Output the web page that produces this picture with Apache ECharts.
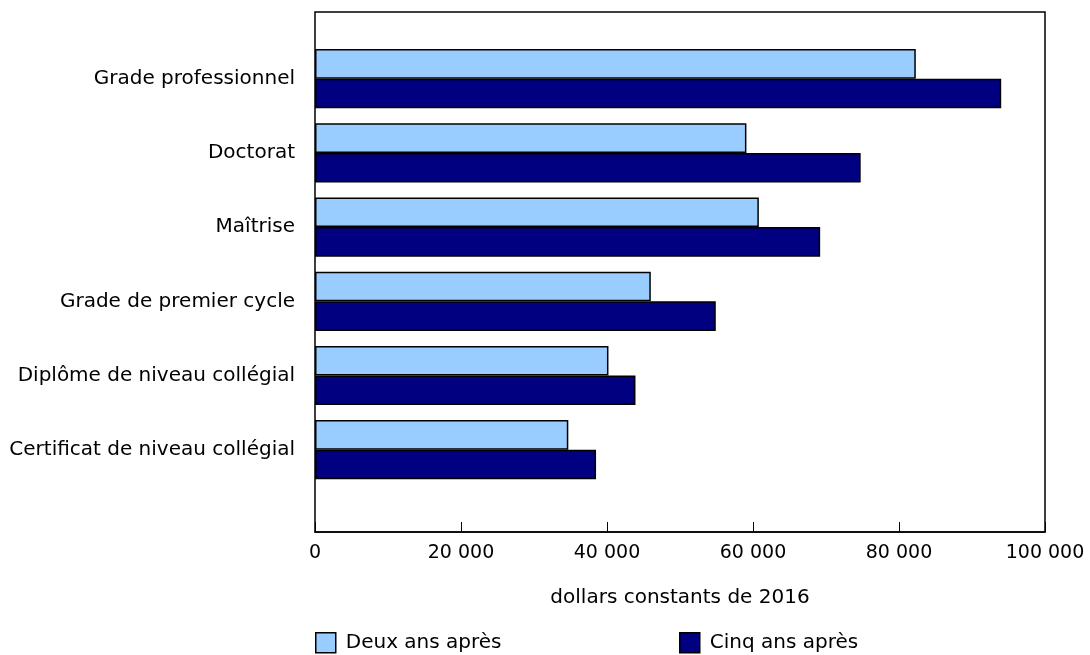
<!DOCTYPE html>
<html>
<head>
<meta charset="utf-8">
<script src="https://cdn.jsdelivr.net/npm/echarts@6/dist/echarts.min.js"></script>
<style>
  html, body { margin: 0; padding: 0; background: #fff; }
  #chart { width: 1090px; height: 655px; }
</style>
</head>
<body>
<div id="chart"></div>
<script>
// catégories (du haut vers le bas)
var categories = ['Grade professionnel', 'Doctorat', 'Maîtrise', 'Grade de premier cycle',
    'Diplôme de niveau collégial', 'Certificat de niveau collégial']

// revenus médians, dollars constants de 2016
var deuxAns = [82300, 59100, 60800, 46000, 40200, 34700]
var cinqAns = [94000, 74750, 69200, 54900, 43900, 38500]

var seriesNames = ['Deux ans après', 'Cinq ans après']
var xTicks = [0, 20000, 40000, 60000, 80000, 100000]

var font = 'DejaVu Sans, Verdana, sans-serif'

function fmt(v) {
    return String(v).replace(/\B(?=(\d{3})+(?!\d))/g, ' ')
}

function legendFor(name, left) {
    return {
        data: [name], left: left, top: 632, icon: 'rect',
        itemWidth: 20, itemHeight: 20, itemGap: 0, padding: 0,
        itemStyle: { borderColor: '#000', borderWidth: 1.5 },
        textStyle: { fontFamily: font, fontSize: 20, color: '#000', padding: [0, 0, 0, 5] }
    }
}

var myChart = echarts.init(document.getElementById('chart'))

var option = {
    animation: false,
    textStyle: { fontFamily: font, color: '#000' },
    grid: [
        // barres
        { left: 315, right: 45, top: 41.6, height: 445.2 },
        // cadre + axe horizontal
        { left: 315, right: 45, top: 12, height: 520, show: true, borderColor: '#000', borderWidth: 1.5, backgroundColor: 'transparent' }
    ],
    legend: [legendFor(seriesNames[0], 315), legendFor(seriesNames[1], 679)],
    xAxis: [
        {
            gridIndex: 0, type: 'value', min: xTicks[0], max: xTicks[xTicks.length - 1], interval: 20000,
            show: false
        },
        {
            gridIndex: 1, type: 'value', min: xTicks[0], max: xTicks[xTicks.length - 1], interval: 20000,
            splitLine: { show: false },
            axisLine: { show: true, lineStyle: { color: '#000', width: 1.5 } },
            axisTick: { show: true, inside: true, length: 10, lineStyle: { color: '#000', width: 1 } },
            axisLabel: { fontSize: 19, color: '#000', margin: 12, fontFamily: font, formatter: fmt },
            name: 'dollars constants de 2016',
            nameLocation: 'middle',
            nameGap: 56,
            nameTextStyle: { fontSize: 20, color: '#000', fontFamily: font }
        }
    ],
    yAxis: [
        {
            gridIndex: 0, type: 'category', data: categories, inverse: true,
            axisLine: { show: false }, axisTick: { show: false },
            axisLabel: { fontSize: 20, color: '#000', margin: 20, fontFamily: font }
        },
        {
            gridIndex: 1, type: 'value', min: 0, max: 1, show: false
        }
    ],
    series: [
        {
            name: seriesNames[0], type: 'bar', xAxisIndex: 0, yAxisIndex: 0,
            data: deuxAns, barWidth: 29.6, barGap: '0%',
            itemStyle: { color: '#99ccff', borderColor: '#000', borderWidth: 1.5 }
        },
        {
            name: seriesNames[1], type: 'bar', xAxisIndex: 0, yAxisIndex: 0,
            data: cinqAns, barWidth: 29.6, barGap: '0%',
            itemStyle: { color: '#000080', borderColor: '#000', borderWidth: 1.5 }
        }
    ]
}
myChart.setOption(option)
window.addEventListener('resize', function () {
    myChart.resize()
})
</script>
</body>
</html>
